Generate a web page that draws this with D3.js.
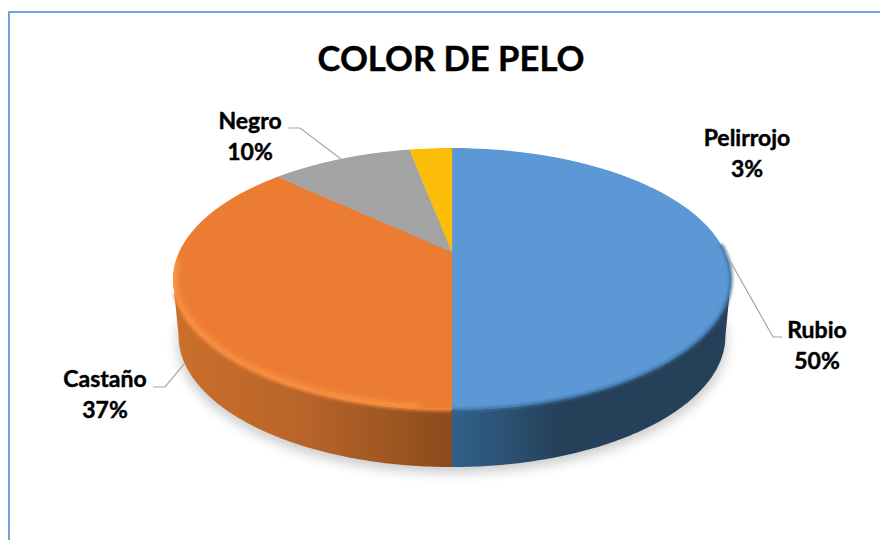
<!DOCTYPE html>
<html><head><meta charset="utf-8">
<script src="https://cdn.jsdelivr.net/npm/d3@7"></script>
<style>html,body{margin:0;padding:0;background:#fff}svg{display:block}text{font-family:Lato,"Open Sans",sans-serif;font-weight:700;fill:#000;stroke:#000;stroke-width:.45px}</style>
</head><body><svg id="c" width="880" height="540"></svg>
<script>
const title = "COLOR DE PELO";
const categories = ["Rubio","Castaño","Negro","Pelirrojo"];
const values = [50,37,10,3];
const percentLabels = ["50%","37%","10%","3%"];
const colors = ["#5b98d5","#eb7c31","#a3a3a3","#fbbd08"];
const labelCenters = [[817,338],[105,387],[250,129],[747,146]];
const leaderElbows = [[[773,337],[782,337]],[[165,387],[153,387]],[[300,128],[288,128]],null];
const leaderOnBase = [false,true,false,false];

const W=880,H=540,cx=452,cy0=252,R=273,S=125.5,k=0.206,depth=57,baseShrink=0.98;
const svg=d3.select("#c");
const defs=svg.append("defs");
const project=a=>{const u=Math.sin(a),v=Math.cos(a),w=1+k*v;return [cx+R*u/w,cy0-S*v/w];};
const base=p=>[cx+(p[0]-cx)*baseShrink,p[1]+depth];
const TAU=2*Math.PI;
const sample=(a0,a1)=>d3.range(0,121).map(i=>a0+(a1-a0)*i/120);
const line=d3.line();
const pie=d3.pie().sort(null).value(d=>d)(values);

[["b1",1.4],["b3",3],["b7",6]].forEach(([id,s])=>{
  defs.append("filter").attr("id",id).attr("x","-20%").attr("y","-20%").attr("width","140%").attr("height","140%")
    .append("feGaussianBlur").attr("stdDeviation",s);
});
const grad=(id,stops)=>{const g=defs.append("linearGradient").attr("id",id).attr("gradientUnits","userSpaceOnUse").attr("x1",170).attr("x2",735).attr("y1",0).attr("y2",0);
  stops.forEach(([x,c])=>g.append("stop").attr("offset",(x-170)/565).attr("stop-color",c));};
grad("sideBlue",[[453,"#30608c"],[500,"#2c5375"],[560,"#254059"],[735,"#254059"]]);
grad("sideOrange",[[172,"#cb702b"],[300,"#b9642a"],[400,"#9b5520"],[453,"#8a4a1c"]]);

// frame
svg.append("line").attr("x1",9).attr("x2",W).attr("y1",12).attr("y2",12).attr("stroke","#6fa5dd").attr("stroke-width",2);
svg.append("line").attr("x1",9).attr("x2",9).attr("y1",11).attr("y2",H).attr("stroke","#6fa5dd").attr("stroke-width",2);

// soft shadow
const rimAll=sample(0,TAU).map(project);
svg.append("path").attr("d",line(rimAll.map(p=>[cx+(p[0]-cx)*0.985,p[1]+depth+6]))+"Z").attr("fill","#000").attr("opacity",0.2).attr("filter","url(#b7)");

// sides
const tan=Math.acos(-k);
const sideFills=["url(#sideBlue)","url(#sideOrange)"];
pie.forEach((d,i)=>{
  const a0=Math.max(d.startAngle,tan),a1=Math.min(d.endAngle,TAU-tan);
  if(a1<=a0)return;
  const top=sample(a0,a1).map(project),bot=top.map(base).reverse();
  svg.append("path").attr("d",line(top.concat(bot))+"Z").attr("fill",sideFills[i]);
});

// top surface
defs.append("clipPath").attr("id","topClip").append("path").attr("d",line(rimAll)+"Z");
const topG=svg.append("g").attr("clip-path","url(#topClip)");
pie.forEach((d,i)=>{
  const pts=[[cx,cy0]].concat(sample(d.startAngle,d.endAngle).map(project));
  topG.append("path").attr("d",line(pts)+"Z").attr("fill",colors[i]).attr("stroke",colors[i]).attr("stroke-width",0.3);
});
// bevel on the rim
topG.append("path").attr("d",line(sample(Math.PI*1.03,TAU*0.74).map(project))).attr("fill","none").attr("stroke","#ff9a48").attr("stroke-width",8).attr("filter","url(#b3)");
// soft transition between rim and wall
const softClipL=defs.append("clipPath").attr("id","softL");
softClipL.append("rect").attr("x",0).attr("y",0).attr("width",cx).attr("height",H);
const softClipR=defs.append("clipPath").attr("id","softR");
softClipR.append("rect").attr("x",cx).attr("y",0).attr("width",W-cx).attr("height",H);
svg.append("g").attr("clip-path","url(#softR)").append("path").attr("d",line(sample(TAU*0.24,Math.PI).map(project))).attr("fill","none").attr("stroke","#3b6d9c").attr("stroke-width",3).attr("filter","url(#b1)");
svg.append("g").attr("clip-path","url(#softL)").append("path").attr("d",line(sample(Math.PI,TAU*0.70).map(project))).attr("fill","none").attr("stroke","#f0853a").attr("stroke-width",3).attr("filter","url(#b1)");

// leaders
const mid=pie.map(d=>project((d.startAngle+d.endAngle)/2));
leaderElbows.forEach((e,i)=>{
  if(!e)return;
  const s=leaderOnBase[i]?base(mid[i]):mid[i];
  svg.append("path").attr("d",line([s,...e])).attr("fill","none").attr("stroke","#a6a6a6").attr("stroke-width",1.2);
});

// text
svg.append("text").attr("x",451).attr("y",71).attr("text-anchor","middle").attr("font-size",34.6).text(title);
categories.forEach((c,i)=>{
  const [x,y]=labelCenters[i];
  svg.append("text").attr("x",x).attr("y",y).attr("text-anchor","middle").attr("font-size",23).text(c);
  svg.append("text").attr("x",x).attr("y",y+31).attr("text-anchor","middle").attr("font-size",23).text(percentLabels[i]);
});
</script></body></html>
